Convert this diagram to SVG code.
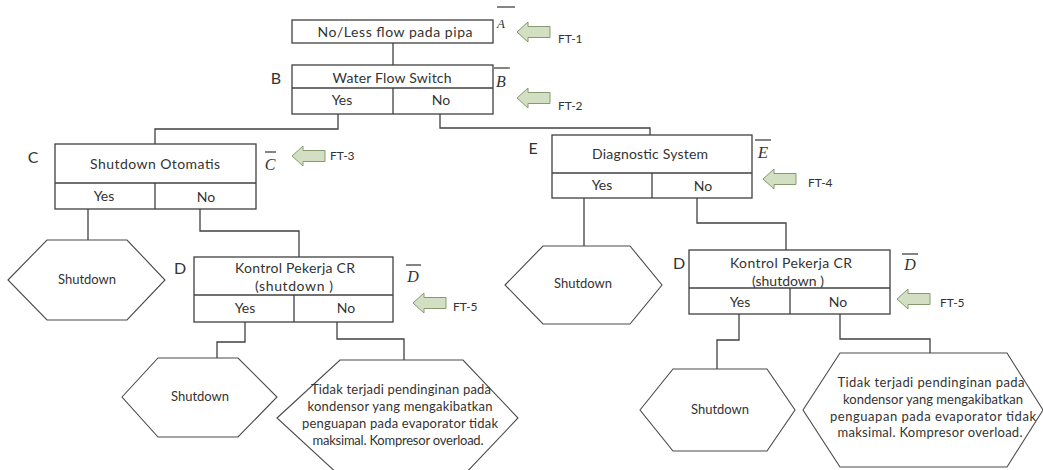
<svg xmlns="http://www.w3.org/2000/svg" xmlns:xlink="http://www.w3.org/1999/xlink" width="1043" height="470" viewBox="0 0 1043 470">
<style>
.box{fill:#fff;stroke:#404040;stroke-width:1.3}
.ln{fill:none;stroke:#404040;stroke-width:1.3}
.hex{fill:#fff;stroke:#4a4a4a;stroke-width:1.1}
.t{font-family:Lato,"Liberation Sans",sans-serif;font-size:14px;fill:#333;text-anchor:middle}
.s{font-family:Lato,"Liberation Sans",sans-serif;font-size:13px;fill:#333;text-anchor:middle}
.lbl{font-family:Lato,"Liberation Sans",sans-serif;font-size:16px;fill:#333;text-anchor:middle}
.ft{font-family:Lato,"Liberation Sans",sans-serif;font-size:12px;fill:#333}
.ov{font-family:"Liberation Serif",serif;font-style:italic;fill:#333;text-anchor:middle}
.bar{stroke:#333;stroke-width:1.2}
.arr{fill:#d3dfc3;stroke:#86996f;stroke-width:1}
</style>
<defs>
<path id="arrow" class="arr" d="M0,10 L11,0 L11,4.5 L33,4.5 L33,15.5 L11,15.5 L11,20 Z"/>
</defs>
<rect width="1043" height="470" fill="#fff"/>

<g id="connectors">
<path class="ln" d="M393,43 V65"/>
<path class="ln" d="M338,114 V129 H155 V144"/>
<path class="ln" d="M440,114 V128 H650 V135"/>
<path class="ln" d="M88,209 V240"/>
<path class="ln" d="M200,209 V231 H299 V257"/>
<path class="ln" d="M245,322 V342 H217 V358"/>
<path class="ln" d="M337,322 V339 H404 V360"/>
<path class="ln" d="M584,198 V246"/>
<path class="ln" d="M697,198 V223 H786 V250"/>
<path class="ln" d="M739,314 V340 H717 V369"/>
<path class="ln" d="M840,314 V339 H930 V353"/>
</g>

<g id="nodeA">
<rect class="box" x="292" y="20" width="201" height="23"/>
<text class="t" x="395" y="37" textLength="155" lengthAdjust="spacing">No/Less flow pada pipa</text>
<line class="bar" x1="497" y1="7" x2="515" y2="7"/>
<text class="ov" x="501" y="28" font-size="13">A</text>
<use href="#arrow" x="517" y="22"/>
<text class="ft" x="558" y="43">FT-1</text>
</g>

<g id="nodeB">
<rect class="box" x="292" y="65" width="201" height="49"/>
<line class="ln" x1="292" y1="88" x2="493" y2="88"/>
<line class="ln" x1="393" y1="88" x2="393" y2="114"/>
<text class="t" x="392" y="83" textLength="119" lengthAdjust="spacing">Water Flow Switch</text>
<text class="t" x="342" y="105">Yes</text>
<text class="t" x="441" y="105">No</text>
<text class="lbl" x="276" y="84">B</text>
<line class="bar" x1="494" y1="68" x2="510" y2="68"/>
<text class="ov" x="501" y="87" font-size="16">B</text>
<use href="#arrow" x="517" y="88"/>
<text class="ft" x="558" y="110">FT-2</text>
</g>

<g id="nodeC">
<rect class="box" x="55" y="144" width="201" height="65"/>
<line class="ln" x1="55" y1="183" x2="256" y2="183"/>
<line class="ln" x1="155" y1="183" x2="155" y2="209"/>
<text class="t" x="155" y="169" textLength="130" lengthAdjust="spacing">Shutdown Otomatis</text>
<text class="t" x="104" y="201">Yes</text>
<text class="t" x="206" y="202">No</text>
<text class="lbl" x="33" y="163">C</text>
<line class="bar" x1="265" y1="152" x2="276" y2="152"/>
<text class="ov" x="270" y="170" font-size="16">C</text>
<use href="#arrow" x="292" y="146"/>
<text class="ft" x="330" y="160">FT-3</text>
</g>

<g id="nodeE">
<rect class="box" x="552" y="135" width="200" height="63"/>
<line class="ln" x1="552" y1="173" x2="752" y2="173"/>
<line class="ln" x1="652" y1="173" x2="652" y2="198"/>
<text class="t" x="650" y="159" textLength="116" lengthAdjust="spacing">Diagnostic System</text>
<text class="t" x="602" y="190">Yes</text>
<text class="t" x="703" y="191">No</text>
<text class="lbl" x="533" y="154">E</text>
<line class="bar" x1="755" y1="140" x2="771" y2="140"/>
<text class="ov" x="763" y="158" font-size="17">E</text>
<use href="#arrow" x="763" y="169"/>
<text class="ft" x="808" y="187">FT-4</text>
</g>

<g id="nodeD1">
<rect class="box" x="194" y="257" width="199" height="65"/>
<line class="ln" x1="194" y1="295" x2="393" y2="295"/>
<line class="ln" x1="294" y1="295" x2="294" y2="322"/>
<text class="t" x="295" y="273" textLength="120" lengthAdjust="spacing">Kontrol Pekerja CR</text>
<text class="t" x="294" y="291" textLength="78" lengthAdjust="spacing">(shutdown )</text>
<text class="t" x="245" y="313">Yes</text>
<text class="t" x="346" y="313">No</text>
<text class="lbl" x="180" y="274">D</text>
<line class="bar" x1="406" y1="265" x2="421" y2="265"/>
<text class="ov" x="413" y="282" font-size="16">D</text>
<use href="#arrow" x="413" y="293"/>
<text class="ft" x="453" y="311">FT-5</text>
</g>

<g id="nodeD2">
<rect class="box" x="689" y="250" width="201" height="64"/>
<line class="ln" x1="689" y1="288" x2="890" y2="288"/>
<line class="ln" x1="790" y1="288" x2="790" y2="314"/>
<text class="t" x="791" y="268" textLength="122" lengthAdjust="spacing">Kontrol Pekerja CR</text>
<text class="t" x="788" y="286" textLength="72" lengthAdjust="spacing">(shutdown )</text>
<text class="t" x="740" y="307">Yes</text>
<text class="t" x="838" y="307">No</text>
<text class="lbl" x="679" y="269">D</text>
<line class="bar" x1="902" y1="254" x2="918" y2="254"/>
<text class="ov" x="910" y="270" font-size="16">D</text>
<use href="#arrow" x="897" y="289"/>
<text class="ft" x="940" y="307">FT-5</text>
</g>

<g id="shutdown1">
<polygon class="hex" points="8,280 47,240 127,240 165,280 127,320 47,320"/>
<text class="s" x="87" y="284">Shutdown</text>
</g>

<g id="shutdown2">
<polygon class="hex" points="122,397 158,358 238,358 277,397 238,437 158,437"/>
<text class="s" x="200" y="401">Shutdown</text>
</g>

<g id="result1">
<polygon class="hex" points="277,418 340,360 463,360 518,418 463,476 340,476"/>
<text class="s" x="401" y="394" textLength="180" lengthAdjust="spacing">Tidak terjadi pendinginan pada</text>
<text class="s" x="400" y="411" textLength="185" lengthAdjust="spacing">kondensor yang mengakibatkan</text>
<text class="s" x="400" y="428" textLength="196" lengthAdjust="spacing">penguapan pada evaporator tidak</text>
<text class="s" x="398" y="445" textLength="171" lengthAdjust="spacing">maksimal. Kompresor overload.</text>
</g>

<g id="shutdown3">
<polygon class="hex" points="505,285 543,246 630,246 662,285 630,324 543,324"/>
<text class="s" x="583" y="288">Shutdown</text>
</g>

<g id="shutdown4">
<polygon class="hex" points="640,410 673,369 767,369 795,410 767,451 673,451"/>
<text class="s" x="720" y="414">Shutdown</text>
</g>

<g id="result2">
<polygon class="hex" points="803,410 840,353 1007,353 1043,410 1007,467 840,467"/>
<text class="s" x="931" y="387" textLength="187" lengthAdjust="spacing">Tidak terjadi pendinginan pada</text>
<text class="s" x="933" y="404" textLength="180" lengthAdjust="spacing">kondensor yang mengakibatkan</text>
<text class="s" x="933" y="421" textLength="206" lengthAdjust="spacing">penguapan pada evaporator tidak</text>
<text class="s" x="930" y="437" textLength="185" lengthAdjust="spacing">maksimal. Kompresor overload.</text>
</g>
</svg>
